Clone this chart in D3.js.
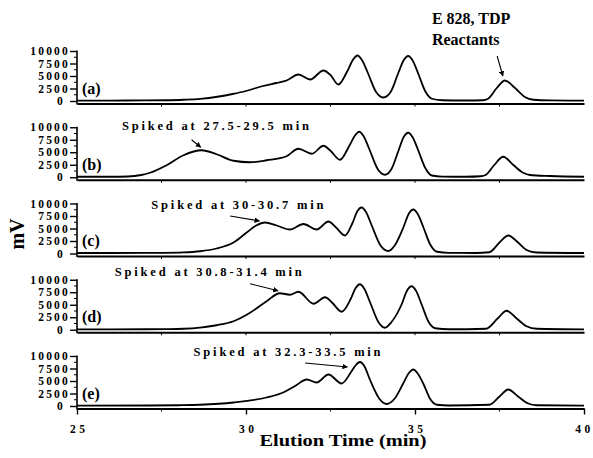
<!DOCTYPE html>
<html>
<head>
<meta charset="utf-8">
<script src="https://cdn.jsdelivr.net/npm/d3@7"></script>
<style>
  body { margin: 0; background: #fff; }
  svg { display: block; }
  text { font-family: "Liberation Serif", "Times New Roman", serif; font-weight: bold; fill: #000; }
</style>
</head>
<body>
<script>
// Chromatogram traces: [elution time (min), signal (mV)]
const traceA = [
  [25, 80], [26, 90], [27, 110], [27.6, 150], [28.15, 250], [28.64, 420], [29.2, 900],
  [29.6, 1400], [30.0, 2000], [30.5, 3000], [30.9, 3600], [31.2, 4100], [31.55, 5300],
  [31.9, 4300], [32.29, 6100], [32.5, 5200], [32.73, 3300], [33.0, 6000], [33.17, 8300],
  [33.3, 9100], [33.43, 8200], [33.6, 5700], [33.85, 1800], [34.06, 700], [34.28, 1800],
  [34.5, 5500], [34.67, 8200], [34.8, 9000], [34.93, 8100], [35.1, 5400], [35.3, 2000],
  [35.5, 450], [35.8, 150], [36.5, 100], [37.0, 150], [37.15, 400], [37.42, 2600],
  [37.66, 4100], [37.96, 2600], [38.25, 800], [38.5, 250], [39.0, 120], [40, 80]
];
const traceB = [
  [25, 100], [26, 100], [26.5, 150], [26.9, 450], [27.16, 900], [27.65, 2400], [28.15, 4400],
  [28.69, 5400], [29.13, 4600], [29.63, 3300], [30.12, 3000], [30.61, 3400], [31.2, 4200],
  [31.55, 5700], [31.95, 4700], [32.29, 6300], [32.5, 5300], [32.78, 3500], [33.05, 6200],
  [33.22, 8300], [33.35, 9100], [33.48, 8200], [33.65, 5600], [33.9, 1600], [34.11, 500],
  [34.3, 1600], [34.5, 5100], [34.67, 8100], [34.8, 8900], [34.93, 8000], [35.1, 5300],
  [35.3, 1900], [35.5, 350], [35.8, 120], [36.5, 100], [36.95, 200], [37.1, 500],
  [37.35, 2500], [37.61, 4100], [37.9, 2500], [38.2, 900], [38.4, 450], [39.0, 250], [40, 100]
];
const traceC = [
  [25, 100], [27, 110], [27.5, 130], [28.15, 220], [28.64, 450], [29.13, 1000], [29.63, 2200],
  [30.02, 4200], [30.3, 5600], [30.56, 6200], [30.91, 5600], [31.3, 4800], [31.7, 5900],
  [32.09, 4800], [32.44, 6400], [32.65, 5300], [32.93, 3600], [33.15, 6100], [33.29, 8400],
  [33.42, 9200], [33.55, 8300], [33.72, 5600], [33.98, 1600], [34.21, 500], [34.4, 1600],
  [34.65, 5100], [34.82, 8000], [34.95, 8800], [35.08, 7900], [35.25, 5200], [35.45, 1800],
  [35.65, 350], [36.0, 120], [36.8, 100], [37.2, 250], [37.5, 2200], [37.76, 3600],
  [38.05, 2200], [38.3, 700], [38.6, 200], [40, 100]
];
const traceD = [
  [25, 80], [27, 100], [27.6, 130], [28.15, 200], [28.64, 420], [29.13, 900], [29.63, 1700],
  [30.12, 3400], [30.61, 5700], [31.0, 7300], [31.3, 7000], [31.55, 7600], [32.0, 5200],
  [32.34, 6500], [32.55, 5400], [32.83, 3600], [33.1, 6200], [33.24, 8300], [33.37, 9100],
  [33.5, 8200], [33.67, 5500], [33.92, 1500], [34.11, 400], [34.3, 1500], [34.6, 5000],
  [34.77, 7900], [34.9, 8700], [35.03, 7800], [35.2, 5000], [35.4, 1600], [35.6, 300],
  [36.0, 100], [37.1, 200], [37.45, 2300], [37.71, 3800], [38.0, 2300], [38.3, 700],
  [38.6, 200], [40, 80]
];
const traceE = [
  [25, 80], [27.16, 100], [28.0, 150], [28.64, 250], [29.63, 700], [30.61, 1700], [31.1, 2700],
  [31.45, 4000], [31.8, 5300], [32.09, 4700], [32.44, 6300], [32.83, 4500], [33.1, 6700],
  [33.24, 8100], [33.37, 8800], [33.5, 8000], [33.67, 5200], [33.95, 1400], [34.16, 400],
  [34.4, 1500], [34.65, 4500], [34.82, 6600], [34.95, 7300], [35.08, 6500], [35.25, 4400],
  [35.45, 1400], [35.65, 250], [36.0, 100], [37.2, 250], [37.5, 1900], [37.76, 3300],
  [38.05, 1900], [38.35, 500], [38.6, 150], [40, 80]
];

const traces = [traceA, traceB, traceC, traceD, traceE];
const panelLabels = ["(a)", "(b)", "(c)", "(d)", "(e)"];

// Axis ticks
const yTicks = [0, 2500, 5000, 7500, 10000];
const yMinorTicks = [1250, 3750, 6250, 8750];
const xTicks = [25, 30, 35, 40];
const xMinorTicks = [27.5, 32.5, 37.5];
const xTitle = "Elution Time (min)";
const yTitle = "mV";

// Annotations: panel index, text start [time, mV], arrow tail and head [time, mV]
const spikeNotes = [
  { panel: 1, text: "Spiked at 27.5-29.5 min", at: [26.33, 9400], from: [28.39, 7500], to: [28.66, 6000] },
  { panel: 2, text: "Spiked at 30-30.7 min",   at: [27.2, 9000],  from: [29.53, 7500], to: [30.4, 6500] },
  { panel: 3, text: "Spiked at 30.8-31.4 min", at: [26.12, 10800], from: [30.12, 9200], to: [30.95, 7800] },
  { panel: 4, text: "Spiked at 32.3-33.5 min", at: [28.45, 10000], from: [31.75, 8600], to: [33.0, 7800] }
];
const reactantNote = { panel: 0, lines: ["E 828, TDP", "Reactants"], at: [35.5, 15200], from: [37.43, 9000], to: [37.6, 5000] };

const W = 593, H = 458;
const svg = d3.select("body").append("svg").attr("width", W).attr("height", H);

const defs = svg.append("defs");
defs.append("marker")
  .attr("id", "arrowhead")
  .attr("viewBox", "0 0 10 10")
  .attr("refX", 9).attr("refY", 5)
  .attr("markerWidth", 5).attr("markerHeight", 5)
  .attr("orient", "auto")
  .append("path").attr("d", "M0,0 L10,5 L0,10 Z").attr("fill", "#000");

const x = d3.scaleLinear().domain([25, 40]).range([77, 584]);
const panelTop = 51, panelStep = 76.25, panelH = 50;

const yScales = traces.map((_, i) => {
  const top = panelTop + i * panelStep;
  return d3.scaleLinear().domain([0, 10000]).range([top + panelH, top]);
});

const line = d3.line().curve(d3.curveMonotoneX);

traces.forEach((trace, i) => {
  const y = yScales[i];
  const g = svg.append("g");
  const base = y(0);
  const axisY = base + 2.5;
  const isLast = i === traces.length - 1;

  // vertical axis
  const yAxis = d3.axisLeft(y).tickValues(yTicks).tickSize(7).tickSizeOuter(0).tickPadding(0)
    .tickFormat(d3.format("d"));
  const ya = g.append("g").attr("transform", "translate(77,0)").call(yAxis);
  ya.select(".domain").remove();
  ya.selectAll(".tick line").attr("stroke", "#000").attr("stroke-width", 1.4);
  ya.selectAll(".tick text")
    .attr("font-size", 11.5)
    .attr("letter-spacing", "2.2px")
    .attr("dx", d => d === 0 ? -5 : 0)
    .style("font-family", '"Liberation Serif", serif')
    .style("font-weight", "bold");
  g.append("line")
    .attr("x1", 77).attr("x2", 77)
    .attr("y1", y(10000) - 0.5).attr("y2", axisY + 1)
    .attr("stroke", "#000").attr("stroke-width", 1.6);
  yMinorTicks.forEach(v => {
    g.append("line").attr("x1", 74).attr("x2", 77).attr("y1", y(v)).attr("y2", y(v))
      .attr("stroke", "#000").attr("stroke-width", 1);
  });

  // horizontal axis
  const xAxis = d3.axisBottom(x)
    .tickValues(isLast ? xTicks : [])
    .tickSize(isLast ? 6 : 0).tickSizeOuter(0).tickPadding(10)
    .tickFormat(d3.format("d"));
  const xa = g.append("g").attr("transform", `translate(0,${axisY})`).call(xAxis);
  xa.select(".domain").attr("stroke", "#000").attr("stroke-width", isLast ? 2.2 : 1.8);
  xa.selectAll(".tick line").attr("stroke", "#000").attr("stroke-width", 1.4);
  xa.selectAll(".tick text")
    .attr("font-size", 11.5)
    .attr("letter-spacing", "3.5px")
    .attr("dx", d => d === 40 ? 0 : 1.75)
    .style("font-family", '"Liberation Serif", serif')
    .style("font-weight", "bold");
  const minor = isLast ? xMinorTicks : xMinorTicks.concat(xTicks.slice(1, -1));
  minor.forEach(t => {
    g.append("line").attr("x1", x(t)).attr("x2", x(t))
      .attr("y1", axisY).attr("y2", axisY + 3)
      .attr("stroke", "#000").attr("stroke-width", 1);
  });

  // trace
  g.append("path")
    .datum(trace)
    .attr("d", line.x(d => x(d[0])).y(d => y(d[1])))
    .attr("fill", "none")
    .attr("stroke", "#000")
    .attr("stroke-width", 1.8)
    .attr("stroke-linejoin", "round");

  // panel label
  g.append("text")
    .attr("x", 82).attr("y", base - 7.5)
    .attr("font-size", 16)
    .text(panelLabels[i]);
});

// spike annotations
spikeNotes.forEach(n => {
  const y = yScales[n.panel];
  svg.append("text")
    .attr("x", x(n.at[0])).attr("y", y(n.at[1]))
    .attr("font-size", 12.5)
    .attr("letter-spacing", "2.8px")
    .text(n.text);
  svg.append("line")
    .attr("x1", x(n.from[0])).attr("y1", y(n.from[1]))
    .attr("x2", x(n.to[0])).attr("y2", y(n.to[1]))
    .attr("stroke", "#000").attr("stroke-width", 1.1)
    .attr("marker-end", "url(#arrowhead)");
});

// reactant annotation
{
  const y = yScales[reactantNote.panel];
  const t = svg.append("text")
    .attr("x", x(reactantNote.at[0])).attr("y", y(reactantNote.at[1]) - 1)
    .attr("font-size", 16);
  reactantNote.lines.forEach((s, k) => {
    t.append("tspan").attr("x", x(reactantNote.at[0])).attr("dy", k === 0 ? 0 : 21).text(s);
  });
  svg.append("line")
    .attr("x1", x(reactantNote.from[0])).attr("y1", y(reactantNote.from[1]))
    .attr("x2", x(reactantNote.to[0])).attr("y2", y(reactantNote.to[1]))
    .attr("stroke", "#000").attr("stroke-width", 1.1)
    .attr("marker-end", "url(#arrowhead)");
}

// axis titles
svg.append("text")
  .attr("x", 343).attr("y", 446)
  .attr("text-anchor", "middle")
  .attr("font-size", 17)
  .attr("textLength", 167)
  .attr("lengthAdjust", "spacingAndGlyphs")
  .text(xTitle);

svg.append("text")
  .attr("transform", "translate(24,234) rotate(-90)")
  .attr("text-anchor", "middle")
  .attr("font-size", 20)
  .text(yTitle);
</script>
</body>
</html>
